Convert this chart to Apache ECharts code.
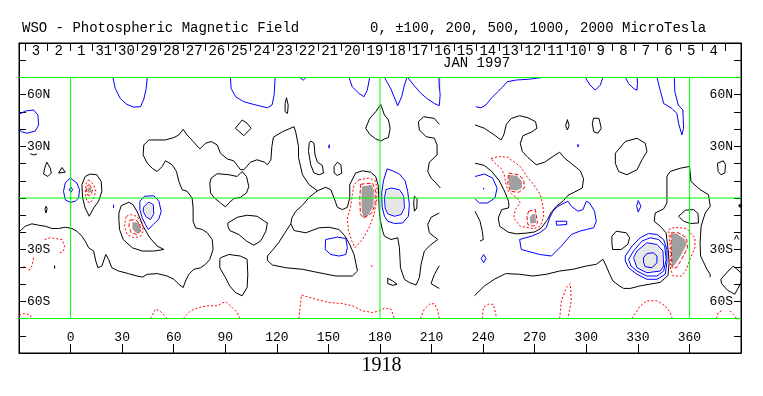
<!DOCTYPE html>
<html><head><meta charset="utf-8">
<script src="https://cdn.jsdelivr.net/npm/echarts@6/dist/echarts.min.js"></script>
<style>html,body{margin:0;padding:0;background:#fff}#c{width:763px;height:396px}</style>
</head><body><div id="c"></div>
<script>
// ---------- data ----------
const lonTicks = [0,30,60,90,120,150,180,210,240,270,300,330,360];
const latLabels = {'60':'60N','30':'30N','-30':'30S','-60':'60S'};
const dateLabels = ['4','5','6','7','8','9','10','11','12','13','14','15','16','17','18','19','20','21','22','23','24','25','26','27','28','29','30','31','1','2','3'];
const dateTickStartLon = 380.7;   // longitude of first (rightmost) day boundary
const dayLon = 13.14;             // degrees of longitude per day
const obsLon  = [-10.0, 42.6, 79.8, 159.5, 290.4, 303.8, 329.5, 343.4, 355.6, 383.5];
const obsMark = ['v','v','v','v','v','v','v','v','v','w'];
const gridLat = [-70, 0, 70];
const gridLon = [0, 180, 360];

const blackLines = [
 [[-30,-19.8],[-26.4,-16.4],[-22.5,-15.0],[-18.6,-15.8],[-14.7,-16.4],[-10.9,-17.7],[-7,-17.7],[-3.1,-17],[0.8,-17.7],[3.7,-19.3],[6.6,-22.2],[8.5,-25],[10.5,-28.9],[13.4,-30.8],[14.7,-36.6],[15.9,-40.5],[18.2,-39.5],[20.5,-32.8],[22.1,-35.6],[24,-40.5],[27.9,-42.4],[33.7,-43.9],[38.6,-45.3],[41.9,-45.9],[44.6,-44.3],[50.4,-43.9],[56.2,-45.3],[60.1,-47.2],[63,-50.1],[65.5,-52],[66.9,-48.2],[68.8,-44.3],[71.7,-41.4],[75.6,-40.5],[78.5,-38.5],[81,-35.6],[82.9,-29.9],[82.4,-24.1],[79.5,-20.2],[76.6,-18.3],[72.7,-17.3],[71.3,-13.5],[71.3,-5.8],[70.7,0],[67.8,3.9],[64.9,4.8],[63,9.6],[61.6,15.4],[59.1,19.3],[55.2,21.6],[53.3,18.3],[50.4,15.4],[47.5,17.3],[44.6,20.2],[42.2,25],[42.6,30.8],[45.5,33.7],[50.4,33.7],[55.2,33.7],[60.1,35.1],[63,36.6],[65.5,39.9],[67.8,36.6],[71.3,32.8],[75.2,28.5],[78.5,31.8],[81.8,32.8],[85.3,30.8],[87.2,26],[91.1,22.7],[94.9,21.6],[98.8,16.5],[100.8,16.4],[104.7,20.8],[108.5,22.2],[112.8,20.8],[114.5,19.3],[116.5,22],[117.1,29.9],[118,35.3],[123.3,38.5],[130,41.4],[131,38.2],[132.6,29.9],[132.6,23.5],[134.9,13.5],[138.8,7.7],[143.6,4.2],[148.4,6.2],[151.4,4.8],[153.3,0],[155.2,-5.4],[158.1,-6.7],[161,-5.4],[162.4,0],[162.4,7.7],[165.8,14.5],[169.8,15.8],[174.5,15],[177.5,12.5],[179,7],[179.3,0],[179.6,-8],[180.2,-13],[181.5,-19],[182.6,-22.2],[186.4,-24.1],[190.3,-23.1],[191.3,-28.9],[191.9,-40.5],[194.2,-47.2],[197.1,-49.1],[201,-50.5],[202.9,-46.2],[203.9,-38.5],[205.8,-30.8],[209.7,-27],[213.6,-24.1],[208.7,-20.2],[207.8,-15.4],[209.7,-11.2],[214.5,-8.7]],
 [[128.1,-15],[130,-18.9],[136.8,-20.2],[144.6,-17.3],[150.4,-17],[156.2,-18.3],[159.7,-22.2],[162.4,-27],[164.9,-32.8],[166.9,-42.4],[163.9,-45.3],[154.3,-45.3],[144.6,-43.4],[134.9,-41.4],[125.2,-40.5],[117.4,-38.9],[114.5,-36.2],[114.5,-33.7],[117.4,-30.4],[121,-26],[124.5,-20.5],[128.1,-15]],
 [[128.1,-15],[128.7,-11.6],[131,-7.7],[134.9,-4.2],[138.8,0.4],[143.6,4.2]],
 [[-13.8,20.8],[-11.8,17.3],[-11.2,14.5],[-13.2,12.5],[-15.7,13.9],[-15.1,17.3],[-13.8,20.8]],
 [[-5,17.7],[-3.1,15],[-4.1,13.9],[-7,14.5],[-5,17.7]],
 [[11.4,13.9],[15.3,13.5],[17.8,9.6],[18.2,3.9],[16.3,-1.9],[13.4,-5.8],[10.9,-10.6],[8.5,-5.8],[7,0],[6.6,7.7],[8.5,12.5],[11.4,13.9]],
 [[-14.3,-4.8],[-13.6,-6],[-14.3,-8.7],[-14.9,-6.5],[-14.3,-4.8]],
 [[-9.3,-39.3],[-8.3,-40.1],[-9.3,-40.9],[-10.3,-40.1],[-9.3,-39.3]],
 [[-23.5,25.8],[-21.5,25],[-19.5,25.6]],
 [[28.1,-8.7],[29.5,-4.4],[33.9,-2.5],[36.4,-3.9],[39.1,-8.7],[42.2,-16.4],[46.1,-23.1],[50.4,-27.9],[54.3,-29.9],[48.4,-30.8],[41.7,-30.8],[35.9,-28.9],[30.6,-24.1],[28.5,-18.3],[28.1,-12.5],[28.1,-8.7]],
 [[81.8,11.6],[85.3,14.1],[92.1,13.5],[96.9,12.5],[99.8,15.4],[102.3,12.5],[103.7,6.7],[102.3,2.9],[98.8,0.4],[94.9,-0.4],[92.1,-2.9],[90.1,-5.2],[87.2,-2.9],[83.7,0],[81.4,2.9],[81,8.7],[81.8,11.6]],
 [[91.5,-14.5],[97,-11.2],[102.7,-10],[108.5,-10.6],[112.8,-13.5],[114.5,-14.5],[113.6,-19.3],[111.6,-23.1],[110.5,-25],[106.6,-27.4],[102.3,-25],[97.9,-21.2],[92.6,-18.9],[91.5,-16.4],[91.5,-14.5]],
 [[87.2,-34.7],[92.1,-32.8],[98.8,-33.7],[102.7,-35.6],[103.1,-44.3],[102.7,-52],[99.8,-56.8],[95.9,-54.9],[92.6,-51.1],[90.1,-46.2],[86.8,-40.5],[86.8,-35.6],[87.2,-34.7]],
 [[95.9,40.5],[99.8,45.3],[102.7,43.4],[105,40.5],[100.8,36.2],[95.9,40.5]],
 [[125.6,58.2],[126.6,53.9],[126.2,49.1],[124.8,50.1],[124.8,54.9],[125.6,58.2]],
 [[139.7,33.1],[141.6,31.8],[142.2,25],[143.6,20.8],[146.5,18.9],[147.1,14.5],[144.6,13.5],[141.6,14.5],[139.7,19.3],[138.4,27],[138.8,31.8],[139.7,33.1]],
 [[155.2,20.8],[157.2,19.3],[157.8,14.5],[155.2,13.1],[153.3,14.5],[153.3,18.3],[155.2,20.8]],
 [[180.4,54.3],[177.5,50.1],[174,46.2],[171.7,40.5],[174,37],[177.5,34.3],[180.6,33.1],[182.6,34.3],[184.9,35.1],[185.9,40.5],[184.9,45.3],[182.6,48.2],[180.4,54.3]],
 [[214.5,42.8],[211.6,46.2],[205.4,47.2],[202.3,44.3],[202.9,39.5],[206.8,35.6],[211.6,34.7],[213.2,30.8],[213.2,25],[208.7,20.8],[207.8,15.4],[209.7,11.6],[212.6,8.7],[215.1,5.8]],
 [[184.5,-46.6],[187.4,-48.2],[189.9,-50.1],[187.4,-50.7],[184.5,-49.7],[184.5,-46.6]],
 [[200,1],[201.6,-0.4],[201.4,-5.8],[200,-7.7],[199.6,-2.9],[200,1]],
 [[214.5,-39.3],[211.6,-44.5],[209.7,-49.7],[214.5,-52.6]],
 [[235.3,20.2],[240.7,18.9],[245,15.4],[249.4,10],[252,4.8],[253.9,0.4],[254.7,-1.9],[255,-4.2],[254.7,-5.8],[250.8,-6.7],[248.8,-11.6],[249.6,-16.4],[254.7,-19.9],[259.3,-20.8],[265.1,-20.4],[270,-19.7],[273.8,-17.5],[277.5,-12.5],[279.5,-8.5],[282.6,-4.8],[286.8,-1.5],[289.3,1.5],[293.2,3.5],[297.7,5.8],[298.4,11.2],[296.5,15.8],[292.2,19.3],[287.4,23.1],[284.5,26.6],[280.6,24.1],[275.8,20.8],[270.9,19.3],[266.1,23.5],[262.8,27],[261.6,31.8],[263.2,36.2],[268,38.2],[271.3,40.5],[270.5,44.3],[266.1,46.6],[261.2,47.8],[256.4,46.2],[253.5,42.8],[252,36.6],[250.4,33.7],[246.5,36.6],[240.7,40.5],[235.3,42.4]],
 [[235.3,-7.7],[238.2,-13.5],[239.5,-19.3],[240.1,-24.1],[238.2,-25]],
 [[234.9,-56.8],[240.7,-51.1],[246.5,-47.2],[252.3,-44.3],[253.5,-43.9],[261.2,-44.3],[269,-45.3],[276.7,-44.3],[284.5,-42.4],[292.2,-41.4],[300,-39.5],[305.8,-38.5],[309.7,-35.6],[311.6,-39.5],[313.6,-44.3],[315.5,-48.2],[319.4,-51.1],[321.7,-52.5],[325.6,-52.5],[331.4,-51],[337.2,-50],[343,-49],[347.5,-45],[348.2,-37.6],[347.6,-29.9],[346.4,-20.2],[343,-16.4],[339.5,-13.5],[340.1,-8.7],[344.9,-6.4],[346.9,-2.9],[346.9,12.5],[348.8,15.4],[354.7,17.3],[360.1,18.3],[360.9,9.6],[366.3,4.8],[371.1,1.9],[372.1,-4.8],[369.2,-8.7],[366.8,-16.4],[366.2,-26],[366.5,-33.7],[370.2,-41.4],[372.1,-44.3],[372,-46]],
 [[289,45.5],[290,42],[289,39.5],[288,42],[289,45.5]],
 [[304.3,46.4],[307.4,46.2],[308.7,40.5],[306.8,37.6],[304.3,38.5],[303.5,43.4],[304.3,46.4]],
 [[316.9,26],[322.7,32.8],[329.5,34.7],[334.3,31.8],[335.3,27],[332.4,22.2],[329.5,16.4],[323.6,13.5],[318.8,15.4],[316.9,20.2],[316.9,26]],
 [[314.9,-22.2],[317.4,-19.3],[323.3,-20.2],[325.2,-23.1],[324.2,-26.9],[320.3,-29.9],[315.3,-29.9],[314.9,-26],[314.9,-22.2]],
 [[353.7,-10.6],[357.6,-7.1],[362.4,-6.7],[365,-9],[365.3,-14.5],[360.5,-14.8],[356.6,-13.5],[353.7,-10.6]],
 [[376.3,20.2],[379.7,21.6],[381,19.3],[380.6,14.5],[378.3,13.5],[376.7,15.4],[376.3,20.2]],
 [[378.3,-47.2],[382.6,-42.4],[385.5,-39.5],[390.5,-43.9],[390,-49.1],[386.4,-55.9],[382.2,-53.6],[378.7,-49.7],[378.3,-47.2]],
 [[386.2,-24.1],[387.4,-21.6],[388.7,-24.1]]
];

const blueLines = [
 [[24.6,70],[26,63.6],[28.9,57.8],[32.8,54.3],[36.6,52.8],[40.7,53],[42.6,57.4],[44,63.6],[44.6,70]],
 [[93,70],[93.4,63.6],[96,58.8],[100.8,55.9],[106.6,54.3],[112,53],[114.5,52.4],[117.2,54],[118.4,59.7],[119,70]],
 [[-30,48.5],[-26.4,50.5],[-21.5,51.1],[-19,48.2],[-18.6,42.4],[-20.5,38.9],[-25.4,37.6],[-28.7,38.5],[-30,40]],
 [[-0.2,11.6],[3.7,8.7],[5.2,4.8],[4.7,0],[2.7,-1.9],[-0.2,-2.5],[-3.1,-1],[-4.1,3.9],[-3.1,8.7],[-0.2,11.6]],
 [[0.2,6.4],[1.2,4.8],[0.2,3.3],[-0.8,4.8],[0.2,6.4]],
 [[40.3,-1.9],[43,1],[48.4,1.3],[51.4,-1.9],[52.7,-7.7],[51.4,-12.1],[48.1,-15.4],[45.2,-18.3],[43.6,-15.4],[41.7,-11.6],[40.3,-6.7],[40.3,-1.9]],
 [[42.6,-5.2],[45.5,-2.3],[48.1,-3.9],[48.4,-9.1],[46.5,-12.5],[44,-11],[42.2,-7.7],[42.6,-5.2]],
 [[25,-4],[25.7,-4.8],[25,-5.6],[24.3,-4.8],[25,-4]],
 [[133.3,70],[135.3,68.4],[137,70]],
 [[162,70],[163.9,64.5],[167.8,60.7],[170.7,58.8],[172.6,62.6],[174,70]],
 [[150.4,30.9],[150.9,29.9],[150.4,28.9],[149.9,29.9],[150.4,30.9]],
 [[148.4,-24.1],[155.2,-22.7],[160.1,-23.5],[161,-28.9],[160.1,-32.8],[156.2,-33.7],[151.4,-32.8],[148.1,-29.9],[148.4,-24.1]],
 [[184.1,16.9],[187.4,15.8],[191.3,13.9],[194.6,10],[196.1,3.9],[197.1,-3.9],[196.5,-10.6],[193.2,-14.5],[188.4,-14.8],[184.5,-13.5],[182.6,-10.6],[181.2,-5],[181,3],[182,10],[184.1,16.9]],
 [[183.5,4.8],[186.4,5.8],[191.3,4.8],[193.8,1],[194.2,-5.8],[192.2,-9.6],[188.4,-10.6],[184.5,-9.2],[183,-5.8],[182.6,0],[183.5,4.8]],
 [[182.6,70],[186.4,63.2],[190.3,53.6],[192.6,58.8],[194.2,65.5],[195.7,70]],
 [[196.1,70],[200,65.1],[203.9,60.7],[207.8,57.4],[211.6,54.9],[214.5,53.6],[215,60],[214.5,65],[214.3,70]],
 [[235.8,53],[238.7,52.4],[241.6,54],[244.6,57.8],[248.5,61.7],[251.4,64.5],[254,67.5],[259.3,68.5],[267,69],[274.6,70]],
 [[299.4,70],[302.3,65.5],[305.2,62.6],[308.1,65.5],[309.7,70]],
 [[322.7,70],[324.6,66.5],[327.5,63.6],[329.5,62.6],[329.8,66.5],[329.6,70]],
 [[341.1,70],[343,62.6],[345,54.9],[349.8,52],[352.7,49.1],[353.7,43.4],[355.6,36.6],[356.6,40.5],[356.2,51.1],[353.5,54],[351.5,61.7],[351.2,70]],
 [[235.3,12.5],[236.5,12.8],[240.7,13.9],[245.5,11.6],[248.1,5.8],[246.9,0],[242.6,-2.9],[237.8,-2.9],[235.3,-0.5]],
 [[240.3,5.9],[240.8,5.4],[240.3,4.9],[239.8,5.4],[240.3,5.9]],
 [[240.3,-32.8],[241.6,-35.1],[240.3,-37.6],[238.8,-35.1],[240.3,-32.8]],
 [[261.2,-24.1],[262.2,-29.9],[272.9,-32.8],[279.7,-33.7],[285.5,-27.9],[291.3,-21.2],[296.1,-19.3],[300,-18.3],[304.3,-17.3],[305.8,-13.5],[304.8,-7.7],[301.9,-2.9],[300,-1.9],[298.1,-6.7],[295.2,-7.7],[291.3,-4.8],[289.3,-1.9],[283.5,-4.8],[280.6,-7.7],[278.7,-11.6],[276.7,-17.3],[272.9,-20.2],[268,-22.2],[261.2,-24.1]],
 [[282.4,-13.5],[288.6,-13.5],[288.6,-15.4],[282.8,-15.8],[282.4,-13.5]],
 [[295.2,31.2],[295.7,30.4],[295.2,29.6],[294.7,30.4],[295.2,31.2]],
 [[322.7,-33.7],[326.6,-27.9],[331.4,-23.1],[336.2,-20.6],[341.1,-21.2],[345,-24.1],[346.9,-29.9],[346.9,-37.6],[345.9,-44.3],[341.1,-47.2],[335.3,-47.2],[329.5,-44.3],[324.6,-40.5],[322.7,-36.6],[322.7,-33.7]],
 [[324.6,-35.6],[327.5,-30.8],[332.4,-25],[337.2,-23.1],[342.1,-24.1],[345.6,-27.9],[346.5,-35.6],[345,-42.4],[341.1,-45.3],[335.3,-45.3],[329.5,-42.4],[326,-39.5],[324.6,-35.6]],
 [[327.5,-34.7],[329.5,-30.8],[335.3,-26],[341.1,-27],[344.6,-30.8],[345,-39.5],[343,-42.4],[335.3,-43.4],[329.5,-40.5],[327.5,-34.7]],
 [[333.3,-34.7],[335.3,-32.2],[339.1,-31.8],[341.1,-33.7],[341.1,-37.6],[338.2,-40.5],[334.3,-39.9],[333.3,-37.2],[333.3,-34.7]],
 [[330.2,-1.5],[331.8,-4.8],[330.2,-8.1],[329.3,-4.8],[330.2,-1.5]]
];

const redDotted = [
 [[10.5,10.6],[13.4,7.7],[14.7,3.9],[13.4,0],[11.4,-2.9],[9.5,-1.9],[8.5,2.9],[9.1,8.7],[10.5,10.6]],
 [[-15.1,-24.1],[-11.8,-23.1],[-5,-24.1],[-3.5,-27.9],[-4.1,-30.8],[-7.4,-32.4]],
 [[-21.5,-34.7],[-22.5,-39.5],[-24.4,-42.4]],
 [[-27.3,-39.5],[-26,-40.8]],
 [[-30,-68],[-26.4,-67.1],[-23.6,-67.8],[-22.5,-70]],
 [[32.6,-10.6],[34.9,-9.6],[38.4,-10.6],[41.7,-14.5],[42.2,-19.3],[40.7,-22.2],[36.8,-23.1],[32.9,-21.2],[31.4,-16.4],[32,-11.6],[32.6,-10.6]],
 [[46.5,-70],[49.4,-64.5],[51.9,-65.5],[56.2,-70]],
 [[65.5,-70],[69.8,-65.5],[74.6,-63.6],[79.5,-62.6],[85.3,-62.6],[90.1,-60.1],[94,-63.6],[96.9,-66.5],[98.4,-70]],
 [[132.8,-70],[134.3,-56.3],[137.8,-57.4],[142.6,-58.8],[150.4,-60.7],[158.1,-61.3],[163.9,-62.6],[169.8,-65.5],[175.6,-66.5],[178.5,-65.9],[182.6,-64],[186.4,-64.5],[188.4,-70]],
 [[203.5,-70],[205.8,-64.5],[208.7,-61.7],[211.6,-61.3],[213.6,-65.5],[214.5,-70]],
 [[239.5,-70],[240.1,-63.6],[243,-61.7],[245.9,-61.7],[246.9,-65.5],[247.9,-70]],
 [[284.5,-70],[285.5,-59.7],[288.4,-52],[290.7,-49.7],[291.3,-59.7],[289.3,-70]],
 [[326.6,-70],[331.4,-62.6],[335.3,-59.7],[341.1,-59.7],[345.9,-62.6],[348.8,-66.5],[350,-70]],
 [[375.8,-70],[376.7,-66.5],[378.7,-65.5]],
 [[383.5,-65.5],[385.5,-67.4],[387.4,-70]],
 [[167.8,10.6],[173.6,11.6],[177.3,10],[178.3,5],[178,-1.9],[176.5,-9.6],[173.6,-17.3],[169.8,-24.1],[165.5,-28.9],[163.6,-25],[161.6,-18.3],[161,-11.6],[162.8,-5.8],[163.9,1.9],[164.9,7.7],[167.8,10.6]],
 [[175.2,-39],[175.2,-40]],
 [[244.6,23],[249.4,24.1],[254.7,23.7],[255.8,22.5],[261.6,18.3],[265.5,12.5],[269.4,7.7],[273.3,1.9],[274.8,-4.8],[275.2,-10.6],[273.3,-16.4],[269.4,-17.9],[261.6,-16.4],[257.8,-11.6],[258.7,-6.7],[261.6,-2.9],[259.7,0],[256.5,2.5],[254.7,3.9],[253.3,7.7],[252.3,13.5],[250.4,17.3],[246.5,20.5],[244.6,23]],
 [[347.9,-18.3],[351.5,-17],[358.3,-17.7],[363.2,-23.1],[363.2,-28.9],[360.3,-35.6],[358.3,-41.4],[355.4,-45.3],[350.6,-45.3],[349,-41.4],[348.8,-28.9],[347.9,-18.3]]
];

const redDashed = [
 [[10.9,7.7],[12.8,4.8],[12,1.9],[10.1,1.5],[9.1,4.8],[9.7,7.1],[10.9,7.7]],
 [[34.5,-12.9],[37.8,-12.5],[40.3,-14.8],[40.7,-19.3],[38.4,-21.2],[35.3,-20.2],[33.9,-16.4],[34.5,-12.9]],
 [[168.8,8],[175.6,8.7],[177.3,4.8],[177.1,-3.9],[175.2,-8.7],[170.7,-11.6],[168.6,-9.6],[168.2,0],[168.8,8]],
 [[254.8,14.5],[260.7,13.5],[263.6,10.6],[264,5.8],[260.7,3.3],[255.8,3.9],[254.3,8.7],[254.8,14.5]],
 [[266.5,-7.7],[270.3,-6.7],[271.7,-14.5],[269.4,-16.4],[266,-15.4],[265.5,-10.6],[266.5,-7.7]],
 [[349.2,-20.2],[353.5,-20.2],[358.3,-23.1],[358.9,-28.9],[355.4,-35.6],[352.5,-40.5],[349.9,-40.5],[349.4,-28.9],[349.2,-20.2]]
];

const darkFill = [
 [[10.1,6.2],[12,5.8],[12,3.5],[10.5,2.9],[9.7,4.2]],
 [[35.9,-14.1],[39.7,-14.1],[40.7,-18.3],[39.7,-20.6],[37.8,-20.2],[35.9,-17.9]],
 [[169.4,6.7],[175,7.7],[176.5,4.8],[176.1,-4.8],[173.2,-10],[170.3,-11.6],[169.4,-7.7],[169.2,0]],
 [[254.8,13.5],[259.7,12.9],[262.6,9.6],[262.6,5.8],[259.7,4.4],[255.8,4.8],[254.8,9.6]],
 [[268.4,-9.6],[270.3,-9],[270.9,-14.5],[267.4,-14.8],[267,-11.6]],
 [[349.6,-20.6],[352.5,-20.6],[357.4,-23.9],[358.3,-26.8],[355.4,-32.6],[352.5,-37.4],[349.9,-40.3],[349.4,-32.6]]
];

const lightFill = [
 [[43.2,-5.5],[45.5,-3],[47.6,-4.5],[47.8,-8.8],[46.3,-11.5],[44.3,-10.2],[42.9,-7.7]],
 [[184,4],[186.4,5],[191,4],[193,0.5],[193.4,-5.5],[191.7,-8.9],[188.4,-9.8],[184.9,-8.5],[183.6,-5.5],[183.4,0]],
 [[328,-34.7],[330,-31],[335.3,-26.7],[340.8,-27.6],[344,-31],[344.4,-39],[342.6,-41.8],[335.3,-42.7],[330,-40]],
 [[213.6,70],[215.6,70],[215.6,63.5],[213.6,63.5]]
];

// ---------- chart ----------
const MONO = "'Liberation Mono','DejaVu Sans Mono',monospace";
const dateTicks = dateLabels.map((_, k) => +(dateTickStartLon - dayLon * k).toFixed(2));
dateTicks.push(+(dateTickStartLon - dayLon * dateLabels.length).toFixed(2));
const dateMids = dateLabels.map((_, k) => +(dateTickStartLon - dayLon * (k + 0.5)).toFixed(2));

const series = [];
function addLines(list, color, type, z) {
  list.forEach(pts => series.push({
    type: 'line', data: pts, symbol: 'none', showSymbol: false, silent: true, animation: false,
    lineStyle: { color: color, width: 1, type: type }, z: z, clip: true
  }));
}
function addFill(list, color) {
  series.push({
    type: 'custom', silent: true, animation: false, z: 1, clip: true,
    data: list.map(p => p[0]),
    renderItem: (params, api) => ({
      type: 'polygon',
      shape: { points: list[params.dataIndex].map(p => api.coord(p)) },
      style: { fill: color }
    })
  });
}
addFill(lightFill, '#e6e6e6');
addFill(darkFill, '#a0a0a0');
addLines(blackLines, '#000000', 'solid', 3);
addLines(blueLines, '#0000ff', 'solid', 3);
addLines(redDotted, '#ff0000', [2, 2], 3);
addLines(redDashed, '#ff0000', [4, 2], 3);
// green reference lines
gridLat.forEach(la => series.push({ type: 'line', data: [[-30, la], [390, la]], symbol: 'none', silent: true, animation: false, lineStyle: { color: '#00ff00', width: 1 }, z: 5 }));
gridLon.forEach(lo => series.push({ type: 'line', data: [[lo, -70], [lo, 70]], symbol: 'none', silent: true, animation: false, lineStyle: { color: '#00ff00', width: 1 }, z: 5 }));
// observation markers
series.push({
  type: 'scatter', silent: true, animation: false, symbolSize: 1, itemStyle: { opacity: 0 }, z: 6,
  data: obsLon.map((l, i) => [l, 73.6, obsMark[i]]),
  label: { show: true, position: 'inside', formatter: p => p.data[2], fontFamily: MONO, fontSize: 11, color: '#000' }
});
// B0 markers
series.push({
  type: 'scatter', silent: true, animation: false, clip: false, symbolSize: 1, itemStyle: { opacity: 0 }, z: 6,
  data: [[-31.6, -5, '>']],
  label: { show: true, position: 'inside', formatter: p => p.data[2], fontFamily: MONO, fontSize: 10, color: '#00cc00' }
});
series.push({
  type: 'scatter', silent: true, animation: false, clip: false, symbol: 'circle', symbolSize: 4, itemStyle: { color: '#000' }, z: 6,
  data: [[389.6, -4.5]]
});

const axisLineStyle = { show: true, onZero: false, lineStyle: { color: '#000', width: 1 } };
const chart = echarts.init(document.getElementById('c'), null, { renderer: 'canvas' });
chart.setOption({
  animation: false,
  backgroundColor: '#ffffff',
  title: [
    { text: 'WSO - Photospheric Magnetic Field', left: 22, top: 21, padding: 0, textStyle: { fontFamily: MONO, fontSize: 14, fontWeight: 'normal', color: '#000' } },
    { text: '0, ±100, 200, 500, 1000, 2000 MicroTesla', left: 370, top: 21, padding: 0, textStyle: { fontFamily: MONO, fontSize: 14, fontWeight: 'normal', color: '#000' } },
    { text: 'JAN 1997', left: 443, top: 56, padding: 0, textStyle: { fontFamily: MONO, fontSize: 14, fontWeight: 'normal', color: '#000' } },
    { text: '1918', left: 'center', top: 356, padding: 0, textStyle: { fontFamily: "'Liberation Serif','DejaVu Serif',serif", fontSize: 20, fontWeight: 'normal', color: '#000' } }
  ],
  grid: { left: 19, right: 22, top: 43, bottom: 43, show: true, borderColor: '#000', borderWidth: 1, containLabel: false },
  xAxis: [
    { type: 'value', min: -30, max: 390, interval: 30, position: 'bottom',
      axisLine: axisLineStyle,
      axisTick: { show: true, inside: true, length: 9, lineStyle: { color: '#000' } },
      axisLabel: { inside: true, margin: 9, fontFamily: MONO, fontSize: 13, color: '#000',
        formatter: v => (lonTicks.indexOf(v) >= 0 ? String(v) : '') },
      splitLine: { show: false } },
    { type: 'value', min: -30, max: 390, position: 'top',
      axisLine: axisLineStyle,
      axisTick: { show: true, inside: true, length: 8, customValues: dateTicks, lineStyle: { color: '#000' } },
      axisLabel: { show: true, inside: true, margin: 1, customValues: dateMids, fontFamily: MONO, fontSize: 14, color: '#000',
        formatter: v => { const k = Math.round((dateTickStartLon - v) / dayLon - 0.5); return dateLabels[k] || ''; } },
      splitLine: { show: false } }
  ],
  yAxis: [
    { type: 'value', min: -90, max: 90, interval: 10, position: 'left',
      axisLine: axisLineStyle,
      axisTick: { show: true, inside: true, length: 7, lineStyle: { color: '#000' } },
      axisLabel: { inside: true, margin: 8, fontFamily: MONO, fontSize: 13, color: '#000',
        formatter: v => latLabels[String(v)] || '' },
      splitLine: { show: false } },
    { type: 'value', min: -90, max: 90, interval: 10, position: 'right',
      axisLine: axisLineStyle,
      axisTick: { show: true, inside: true, length: 7, lineStyle: { color: '#000' } },
      axisLabel: { inside: true, margin: 8, fontFamily: MONO, fontSize: 13, color: '#000',
        formatter: v => latLabels[String(v)] || '' },
      splitLine: { show: false } }
  ],
  series: series
});
</script>
</body></html>
